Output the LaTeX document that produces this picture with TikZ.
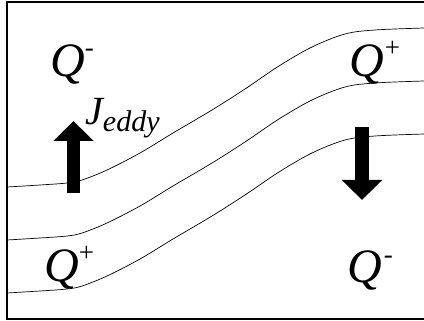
\documentclass[tikz,border=0pt]{standalone}
\usepackage{fontspec}
\setmainfont{Liberation Serif}
\usepackage{tikz}
\usetikzlibrary{arrows.meta}

\newcommand{\chg}[1]{\raisebox{20pt}{\fontsize{27}{27}\selectfont\upshape #1}}

\begin{document}
\begin{tikzpicture}[
  x=1pt, y=-1pt,
  charge/.style={inner sep=0pt, anchor=base west, font=\fontsize{48}{48}\selectfont\itshape},
  frame/.style={line width=1.1pt},
  stream/.style={line width=0.7pt},
  flux/.style={line width=13.5pt, -{Triangle[width=39pt, length=20pt]}}
]
  \useasboundingbox (0,0) rectangle (424,321);
  % open box, no right side
  \draw[frame] (424,2) -- (7,2) -- (7,319) -- (424,319);
  % stream lines
  \foreach \dy in {0,53,106}
    \draw[stream, shift={(0,\dy)}] plot[smooth, tension=0.55] coordinates
      {(7,187) (40,185) (67,183) (82,180) (107,170) (140,153) (173,133) (212,110)
       (245,89) (279,66) (312,47) (345,34) (375,30) (424,28)};
  % charges
  \node[charge] (qtl) at (50,77) {Q\chg{-}};
  \node[charge] (qtr) at (349,77) {Q\kern1pt\chg{+}};
  \node[charge] (qbl) at (44,281) {Q\chg{+}};
  \node[charge] (qbr) at (347,283) {Q\kern2pt\chg{-}};
  % eddy flux
  \coordinate (upfoot) at (73.5,193);
  \coordinate (uptip) at (73.5,121);
  \coordinate (dnfoot) at (362,127);
  \coordinate (dntip) at (362,200);
  \draw[flux] (upfoot) -- (uptip);
  \draw[flux] (dnfoot) -- (dntip);
  \node[inner sep=0pt, anchor=base west] (jeddy) at (85,125)
    {\fontsize{40}{40}\selectfont\itshape J\raisebox{-6pt}{\fontsize{30}{30}\selectfont eddy}};
\end{tikzpicture}
\end{document}
